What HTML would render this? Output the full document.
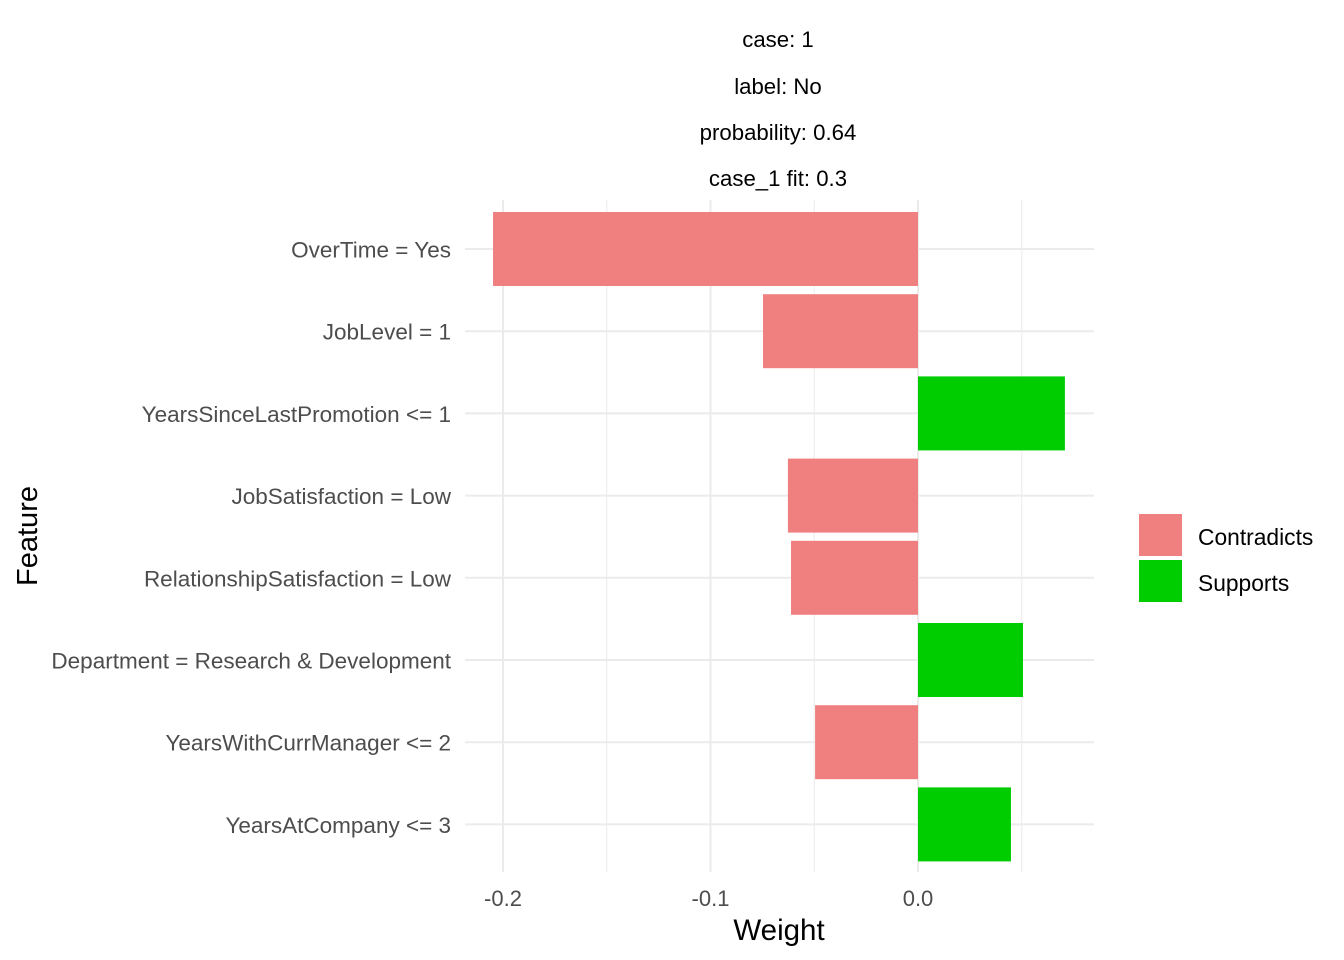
<!DOCTYPE html>
<html><head><meta charset="utf-8"><style>
html,body{margin:0;padding:0;background:#fff}
svg{display:block;font-family:"Liberation Sans",Arial,sans-serif}
</style></head><body>
<svg id="chart" width="1344" height="960">
<g id="titles" font-size="22.2" fill="#000" text-anchor="middle">
<text x="778" y="47">case: 1</text>
<text x="778" y="94">label: No</text>
<text x="778" y="140">probability: 0.64</text>
<text x="778" y="186">case_1 fit: 0.3</text>
</g>
<g id="grid"></g><g id="bars"></g><g id="ylabels"></g><g id="xlabels"></g>
<text x="779" y="940" font-size="29.5" text-anchor="middle">Weight</text>
<text transform="translate(37,536) rotate(-90)" font-size="29" text-anchor="middle">Feature</text>
<g>
<rect x="1139" y="514" width="43" height="42" fill="#f08080"/>
<text x="1198" y="545" font-size="22.8">Contradicts</text>
<rect x="1139" y="560" width="43" height="42" fill="#00cd00"/>
<text x="1198" y="591" font-size="22.8">Supports</text>
</g>
</svg>
<script>
const features=["OverTime = Yes","JobLevel = 1","YearsSinceLastPromotion <= 1","JobSatisfaction = Low","RelationshipSatisfaction = Low","Department = Research & Development","YearsWithCurrManager <= 2","YearsAtCompany <= 3"];
const weights=[-0.2048,-0.0747,0.0708,-0.0627,-0.0612,0.0506,-0.0496,0.0448];
const xTicks=[-0.2,-0.1,0.0];
const xTickLabels=["-0.2","-0.1","0.0"];
const xMinor=[-0.15,-0.05,0.05];
const NS="http://www.w3.org/2000/svg";
const x=v=>918+v*2075;
const y=i=>249+i*82.2;
const px0=465,px1=1094,py0=200,py1=872;
function mk(t,a,p){const e=document.createElementNS(NS,t);for(const k in a)e.setAttribute(k,a[k]);p.appendChild(e);return e;}
const grid=document.getElementById('grid');
xMinor.forEach(v=>{const l=mk('line',{x1:x(v),x2:x(v),y1:py0,y2:py1,stroke:'#ebebeb','stroke-width':1},grid);

});
xTicks.forEach(v=>{const l=mk('line',{x1:x(v),x2:x(v),y1:py0,y2:py1,stroke:'#ebebeb','stroke-width':2},grid);

});
features.forEach((f,i)=>{const l=mk('line',{x1:px0,x2:px1,y1:y(i),y2:y(i),stroke:'#ebebeb','stroke-width':2},grid);

});
const bars=document.getElementById('bars');
weights.forEach((w,i)=>{const x0=Math.min(x(0),x(w)),wd=Math.abs(x(w)-x(0));
const r=mk('rect',{x:x0,y:y(i)-37,width:wd,height:74,fill:w<0?'#f08080':'#00cd00'},bars);

});
const yl=document.getElementById('ylabels');
features.forEach((f,i)=>{const t=mk('text',{x:451,y:y(i)+8.5,'font-size':22.5,fill:'#4d4d4d','text-anchor':'end'},yl);t.textContent=f;

});
const xl=document.getElementById('xlabels');
xTicks.forEach((v,i)=>{const t=mk('text',{x:x(v),y:906,'font-size':22,fill:'#4d4d4d','text-anchor':'middle'},xl);t.textContent=xTickLabels[i];

});
</script>
</body></html>
